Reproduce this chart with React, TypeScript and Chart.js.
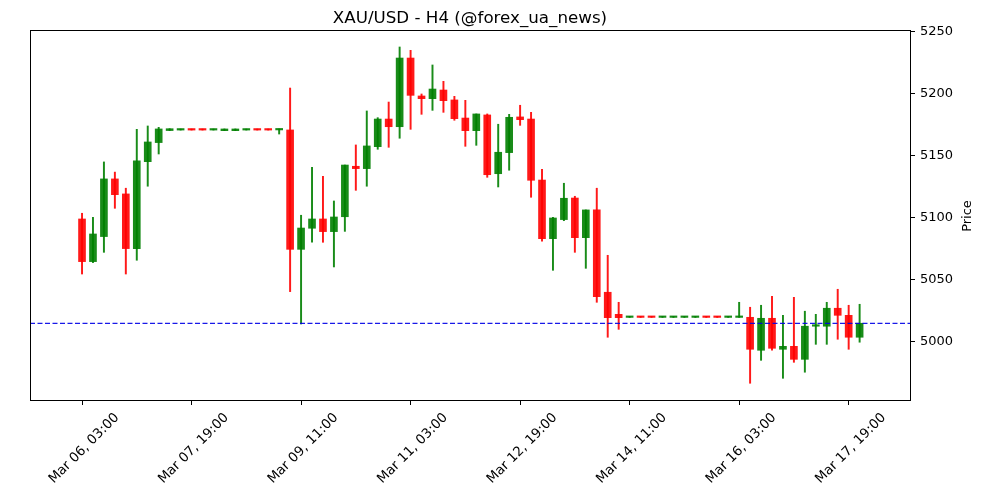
import React, { useEffect, useRef } from "react";
import { Chart, registerables } from "chart.js";

Chart.register(...registerables);

const TITLE = "XAU/USD - H4 (@forex_ua_news)";
const Y_LABEL = "Price";

const X_TICK_INDEX = [0, 10, 20, 30, 40, 50, 60, 70];
const X_TICK_LABELS = [
  "Mar 06, 03:00",
  "Mar 07, 19:00",
  "Mar 09, 11:00",
  "Mar 11, 03:00",
  "Mar 12, 19:00",
  "Mar 14, 11:00",
  "Mar 16, 03:00",
  "Mar 17, 19:00",
];
const Y_TICKS = [5000, 5050, 5100, 5150, 5200, 5250];
const X_MIN = -4.75;
const X_MAX = 75.6;
const Y_MIN = 4953.2;
const Y_MAX = 5251.6;
const REF_LEVEL = 5015;

const OPEN = [
  5099.2, 5064.8, 5085.0, 5131.5, 5119.4, 5075.3, 5145.4, 5160.8, 5170.5, 5170.9,
  5171.2, 5171.2, 5170.9, 5170.4, 5170.4, 5170.9, 5171.2, 5171.2, 5171.0, 5171.0,
  5074.7, 5091.7, 5099.2, 5089.0, 5101.0, 5141.7, 5139.8, 5157.5, 5179.8, 5173.6,
  5229.0, 5198.4, 5196.2, 5203.2, 5195.2, 5180.6, 5170.4, 5183.1, 5135.7, 5152.7,
  5181.5, 5179.8, 5130.6, 5083.3, 5098.7, 5116.1, 5084.1, 5106.5, 5040.1, 5022.3,
  5019.8, 5020.1, 5020.1, 5019.8, 5019.8, 5019.8, 5019.8, 5020.1, 5020.1, 5019.8,
  5019.8, 5019.9, 4993.3, 5019.1, 4994.1, 4996.5, 4986.0, 5012.7, 5012.7, 5027.2,
  5021.5, 5003.8,
];
const HIGH = [
  5103.8, 5100.5, 5145.2, 5137.0, 5124.0, 5171.5, 5174.2, 5173.1, 5172.0, 5171.4,
  5171.4, 5171.4, 5171.4, 5171.8, 5171.8, 5171.4, 5171.4, 5171.4, 5171.8, 5204.8,
  5102.2, 5140.9, 5133.6, 5113.7, 5142.7, 5158.9, 5186.3, 5180.9, 5193.5, 5237.9,
  5235.2, 5200.0, 5223.4, 5210.2, 5198.1, 5194.9, 5183.9, 5183.9, 5175.6, 5183.6,
  5190.9, 5185.2, 5139.3, 5100.5, 5128.0, 5117.5, 5106.5, 5124.0, 5069.9, 5032.0,
  5020.1, 5020.1, 5020.1, 5020.1, 5020.1, 5020.1, 5020.1, 5020.1, 5020.1, 5020.1,
  5032.0, 5028.0, 5029.6, 5036.9, 5021.5, 5036.0, 5024.8, 5022.3, 5032.0, 5042.5,
  5029.6, 5030.4,
];
const LOW = [
  5054.8, 5064.0, 5072.3, 5107.8, 5054.8, 5065.9, 5125.6, 5151.6, 5170.5, 5170.9,
  5170.9, 5170.9, 5170.9, 5170.4, 5170.4, 5170.9, 5170.9, 5170.9, 5167.7, 5040.6,
  5014.5, 5080.4, 5080.4, 5060.5, 5089.2, 5122.3, 5125.6, 5155.4, 5157.0, 5164.3,
  5171.5, 5183.6, 5186.8, 5185.2, 5178.8, 5157.8, 5158.6, 5132.8, 5125.0, 5138.5,
  5174.7, 5116.7, 5081.2, 5057.8, 5097.8, 5072.3, 5059.4, 5032.0, 5003.8, 5010.2,
  5019.8, 5019.8, 5019.8, 5019.8, 5019.8, 5019.8, 5019.8, 5019.8, 5019.8, 5019.8,
  5019.8, 4966.7, 4985.2, 4993.3, 4970.7, 4983.6, 4975.6, 4998.1, 4998.1, 5002.2,
  4994.1, 4999.8,
];
const CLOSE = [
  5064.8, 5087.1, 5131.5, 5118.8, 5075.3, 5146.0, 5161.3, 5171.8, 5172.0, 5171.2,
  5170.9, 5170.9, 5171.2, 5171.8, 5171.8, 5171.2, 5170.9, 5170.9, 5171.3, 5074.7,
  5091.9, 5099.2, 5089.0, 5100.8, 5142.7, 5139.8, 5158.1, 5179.8, 5173.6, 5229.0,
  5198.9, 5196.2, 5204.0, 5194.6, 5180.1, 5170.4, 5183.9, 5134.9, 5153.0, 5181.2,
  5179.3, 5130.4, 5083.3, 5100.0, 5115.9, 5084.1, 5106.5, 5036.6, 5019.6, 5019.6,
  5020.1, 5019.8, 5019.8, 5020.1, 5020.1, 5020.1, 5020.1, 5019.8, 5019.8, 5020.1,
  5020.2, 4994.1, 5019.1, 4994.9, 4996.5, 4986.0, 5012.7, 5013.2, 5027.2, 5021.5,
  5003.8, 5015.1,
];

const UP_COLOR = "rgba(0,128,0,0.9)";
const DOWN_COLOR = "rgba(255,0,0,0.9)";
const FONT = "DejaVu Sans";

export default function App() {
  const ref = useRef<HTMLCanvasElement | null>(null);

  useEffect(() => {
    if (!ref.current) return;
    const idx = OPEN.map((_, i) => i);
    const colors = idx.map((i) => (CLOSE[i] >= OPEN[i] ? UP_COLOR : DOWN_COLOR));

    const framePlugin = {
      id: "frameAndLabels",
      afterDraw(chart: any) {
        const { ctx, chartArea } = chart;
        const { left, right, top, bottom } = chartArea;
        ctx.save();
        ctx.strokeStyle = "#000";
        ctx.lineWidth = 1;
        ctx.strokeRect(Math.round(left) + 0.5, Math.round(top) + 0.5, Math.round(right - left), Math.round(bottom - top));
        ctx.fillStyle = "#000";
        ctx.font = `16.7px "${FONT}"`;
        ctx.textAlign = "center";
        ctx.textBaseline = "alphabetic";
        ctx.fillText(TITLE, (left + right) / 2, 22.5);
        ctx.font = `13px "${FONT}"`;
        ctx.translate(968, (top + bottom) / 2 + 1);
        ctx.rotate(-Math.PI / 2);
        ctx.textBaseline = "middle";
        ctx.fillText(Y_LABEL, 0, 0);
        ctx.restore();
      },
    };

    const chart = new Chart(ref.current, {
      type: "bar",
      data: {
        datasets: [
          {
            type: "line",
            data: [
              { x: X_MIN, y: REF_LEVEL },
              { x: X_MAX, y: REF_LEVEL },
            ],
            borderColor: "rgba(0,0,230,0.9)",
            borderWidth: 1.3,
            borderDash: [5, 2.5],
            pointRadius: 0,
            order: 0,
          } as any,
          {
            data: idx.map((i) => ({ x: i, y: [OPEN[i], CLOSE[i]] })),
            backgroundColor: colors,
            borderWidth: 0,
            barThickness: 7,
            minBarLength: 1.5,
            grouped: false,
            order: 1,
          } as any,
          {
            data: idx.map((i) => ({ x: i, y: [LOW[i], HIGH[i]] })),
            backgroundColor: colors,
            borderWidth: 0,
            barThickness: 1.3,
            minBarLength: 1,
            grouped: false,
            order: 2,
          } as any,
        ],
      },
      options: {
        responsive: false,
        animation: false,
        layout: { padding: { left: 30, top: 30, right: 0, bottom: 0 } },
        plugins: {
          legend: { display: false },
          tooltip: { enabled: false },
          title: { display: false },
        },
        scales: {
          x: {
            type: "linear",
            min: X_MIN,
            max: X_MAX,
            offset: false,
            grid: {
              display: true,
              drawOnChartArea: false,
              drawTicks: true,
              tickLength: 5,
              color: "#000",
              offset: false,
            },
            border: { display: false },
            ticks: {
              autoSkip: false,
              maxRotation: 45,
              minRotation: 45,
              padding: 5,
              labelOffset: 35,
              color: "#000",
              font: { family: FONT, size: 13.3 },
              callback: (v: any) => {
                const k = X_TICK_INDEX.indexOf(Number(v));
                return k >= 0 ? X_TICK_LABELS[k] : "";
              },
            },
            afterBuildTicks: (s: any) => {
              s.ticks = X_TICK_INDEX.map((v) => ({ value: v }));
            },
            afterFit: (s: any) => {
              s.height = 100;
            },
          },
          y: {
            type: "linear",
            position: "right",
            min: Y_MIN,
            max: Y_MAX,
            grid: {
              display: true,
              drawOnChartArea: false,
              drawTicks: true,
              tickLength: 5,
              color: "#000",
            },
            border: { display: false },
            ticks: {
              padding: 5,
              color: "#000",
              font: { family: FONT, size: 13 },
              callback: (v: any) => String(v),
            },
            afterBuildTicks: (s: any) => {
              s.ticks = Y_TICKS.map((v) => ({ value: v }));
            },
            afterFit: (s: any) => {
              s.width = 90;
            },
          },
        },
      } as any,
      plugins: [framePlugin],
    });
    return () => chart.destroy();
  }, []);

  return (
    <div style={{ position: "fixed", left: 0, top: 0, width: 1000, height: 500, background: "#fff" }}>
      <canvas ref={ref} width={1000} height={500} />
    </div>
  );
}
